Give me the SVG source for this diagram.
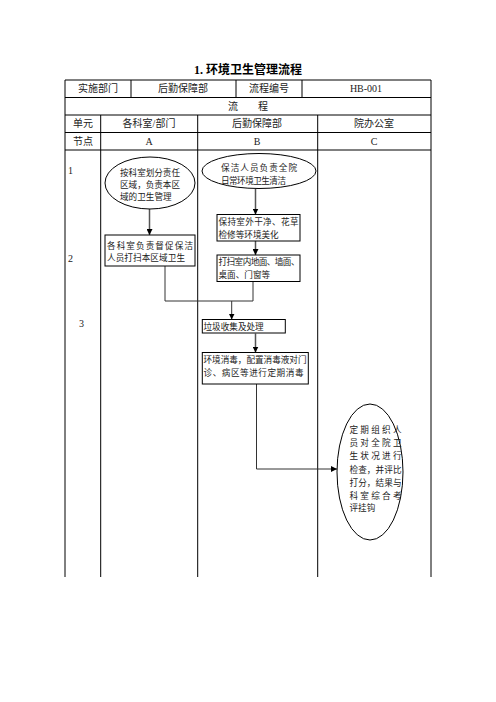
<svg xmlns="http://www.w3.org/2000/svg" width="496" height="702" viewBox="0 0 496 702">
<style>
.t{font-family:"Liberation Serif","Noto Sans CJK SC",serif;font-size:10px;fill:#222}
.s{font-family:"Liberation Serif","Noto Sans CJK SC",serif;font-size:8.6px;fill:#222}
.ttl{font-family:"Liberation Serif","Noto Sans CJK SC",serif;font-size:12px;font-weight:bold;fill:#000}
.g{stroke:#000;stroke-width:1;fill:none}
.n{stroke:#000;stroke-width:1;fill:#fff}
.c{stroke:#333;stroke-width:1;fill:none}
</style>
<defs>
<marker id="ah" viewBox="0 0 8 8" refX="8" refY="4" markerWidth="6" markerHeight="6" markerUnits="userSpaceOnUse" orient="auto">
<path d="M0,0 L8,4 L0,8 Z" fill="#000"/>
</marker>
</defs>
<rect width="496" height="702" fill="#fff"/>
<text class="ttl" x="248" y="74" text-anchor="middle">1. 环境卫生管理流程</text>
<g id="table">
<path class="g" d="M65,80 H431 M65,97.5 H431 M65,115 H431 M65,132.5 H431 M65,150 H431 M65,80 V577 M431,80 V577 M131,80 V97.5 M236,80 V97.5 M302,80 V97.5 M100.7,115 V577 M197.7,115 V577 M317.7,115 V577"/>
<text class="t" x="98" y="92" text-anchor="middle">实施部门</text>
<text class="t" x="183" y="92" text-anchor="middle">后勤保障部</text>
<text class="t" x="269" y="92" text-anchor="middle">流程编号</text>
<text class="t" x="366" y="92" text-anchor="middle">HB-001</text>
<text class="t" x="248" y="109.5" text-anchor="middle" xml:space="preserve">流　　程</text>
<text class="t" x="83" y="127" text-anchor="middle">单元</text>
<text class="t" x="149" y="127" text-anchor="middle">各科室/部门</text>
<text class="t" x="257" y="127" text-anchor="middle">后勤保障部</text>
<text class="t" x="374" y="127" text-anchor="middle">院办公室</text>
<text class="t" x="83" y="144.5" text-anchor="middle">节点</text>
<text class="t" x="149" y="144.5" text-anchor="middle">A</text>
<text class="t" x="257" y="144.5" text-anchor="middle">B</text>
<text class="t" x="374" y="144.5" text-anchor="middle">C</text>
<text class="t" x="68" y="174">1</text>
<text class="t" x="68" y="262">2</text>
<text class="t" x="79" y="327">3</text>
</g>
<g id="connectors">
<path class="c" d="M149.5,209 V235" marker-end="url(#ah)" style="stroke:#555;stroke-width:1.5"/>
<path class="c" d="M255.5,189 V214.5" marker-end="url(#ah)" style="stroke:#555;stroke-width:1.5"/>
<path class="c" d="M255.5,241 V255" marker-end="url(#ah)" style="stroke:#555;stroke-width:1.5"/>
<path class="c" d="M165,266 V301 H253 V281.5"/>
<path class="c" d="M231.7,301 V319.5" marker-end="url(#ah)"/>
<path class="c" d="M255.5,333.5 V352.5" marker-end="url(#ah)" style="stroke:#555;stroke-width:1.5"/>
<path class="c" d="M256.5,384 V469 H337" marker-end="url(#ah)"/>
</g>
<g id="A1">
<ellipse class="n" cx="150" cy="183" rx="45" ry="26"/>
<text class="s" x="120" y="176" textLength="60">按科室划分责任</text>
<text class="s" x="120" y="188" textLength="60">区域，负责本区</text>
<text class="s" x="120" y="200">域的卫生管理</text>
</g>
<g id="B1">
<ellipse class="n" cx="259" cy="171" rx="57" ry="17.5"/>
<text class="s" x="221" y="171" textLength="76">保洁人员负责全院</text>
<text class="s" x="221" y="184" textLength="65">日常环境卫生清洁</text>
</g>
<g id="A2">
<rect class="n" x="105" y="235" width="90" height="31"/>
<text class="s" x="107" y="249" textLength="86">各科室负责督促保洁</text>
<text class="s" x="107" y="261" textLength="78">人员打扫本区域卫生</text>
</g>
<g id="B2a">
<rect class="n" x="217" y="214.5" width="83" height="26.5"/>
<text class="s" x="218.5" y="225" textLength="80">保持室外干净、花草</text>
<text class="s" x="218.5" y="238">检修等环境美化</text>
</g>
<g id="B2b">
<rect class="n" x="217" y="255" width="83" height="26.5"/>
<text class="s" x="218.5" y="265" textLength="81">打扫室内地面、墙面、</text>
<text class="s" x="218.5" y="278">桌面、门窗等</text>
</g>
<g id="B3a">
<rect class="n" x="202.3" y="319.5" width="83" height="13.5"/>
<text class="s" x="203.5" y="329.5">垃圾收集及处理</text>
</g>
<g id="B3b">
<rect class="n" x="202.3" y="352.5" width="106" height="31.5"/>
<text class="s" x="203.5" y="363" textLength="103">环境消毒，配置消毒液对门</text>
<text class="s" x="203.5" y="376" textLength="100">诊、病区等进行定期消毒</text>
</g>
<g id="C">
<ellipse class="n" cx="370" cy="472" rx="33" ry="68"/>
<text class="s" x="349.5" y="433" textLength="52">定期组织人</text>
<text class="s" x="349.5" y="446" textLength="52">员对全院卫</text>
<text class="s" x="349.5" y="459" textLength="52">生状况进行</text>
<text class="s" x="349.5" y="472.5" textLength="52">检查，并评比</text>
<text class="s" x="349.5" y="485.5" textLength="52">打分，结果与</text>
<text class="s" x="349.5" y="498.5" textLength="52">科室综合考</text>
<text class="s" x="349.5" y="511">评挂钩</text>
</g>
</svg>
